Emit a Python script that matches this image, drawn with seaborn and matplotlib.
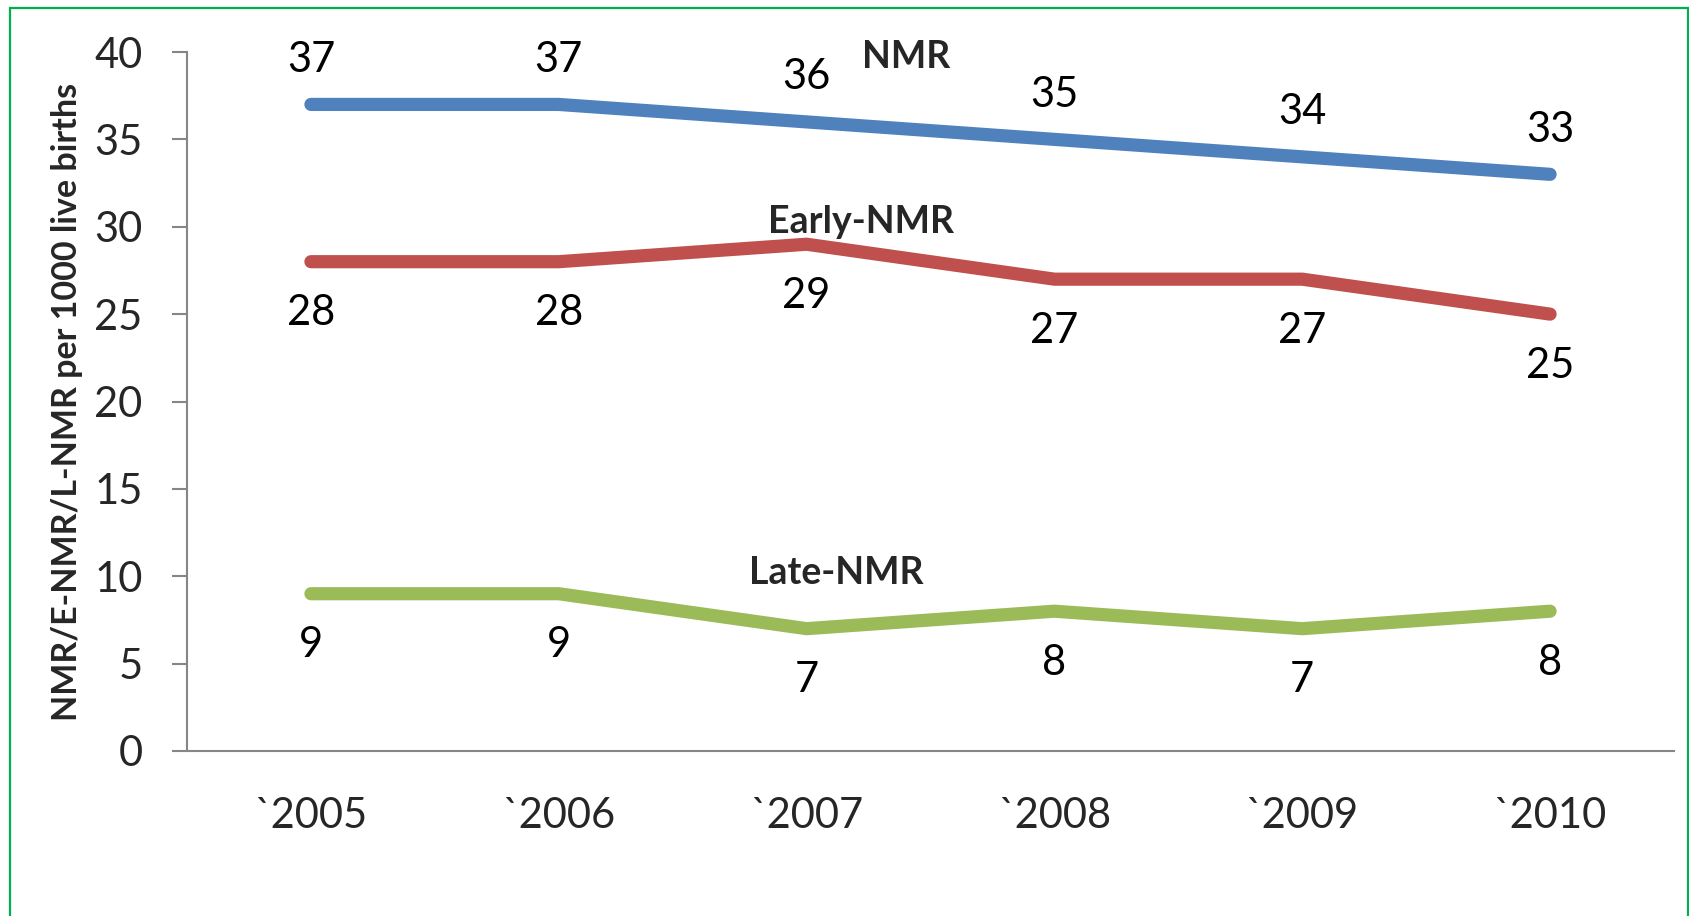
import numpy as np
import pandas as pd
import seaborn as sns
import matplotlib.pyplot as plt
from matplotlib.patches import Rectangle

# === Data ===
years = ["`2005", "`2006", "`2007", "`2008", "`2009", "`2010"]
nmr = [37, 37, 36, 35, 34, 33]
early_nmr = [28, 28, 29, 27, 27, 25]
late_nmr = [9, 9, 7, 8, 7, 8]
series_names = ["NMR", "Early-NMR", "Late-NMR"]
colors = ["#4F81BD", "#C0504D", "#9BBB59"]

df = pd.DataFrame({
    "year": years * 3,
    "pos": list(range(len(years))) * 3,
    "value": nmr + early_nmr + late_nmr,
    "series": [s for s in series_names for _ in years],
})

sns.set_style("white")
plt.rcParams["font.family"] = ["Lato", "DejaVu Sans"]

fig = plt.figure(figsize=(16.9, 9.16), dpi=100)
ax = fig.add_axes([187 / 1690, 1 - 751 / 916, (1674 - 187) / 1690, (751 - 52) / 916])

sns.lineplot(data=df, x="pos", y="value", hue="series", palette=colors,
             linewidth=9.5, solid_capstyle="round", solid_joinstyle="round",
             legend=False, ax=ax)

# data labels: NMR above, the others below
offsets = {"NMR": 32, "Early-NMR": -37, "Late-NMR": -37}
for name, grp in df.groupby("series"):
    for x, v in zip(grp["pos"], grp["value"]):
        ax.annotate(str(v), (x, v), xytext=(0, offsets[name]), textcoords="offset points",
                    ha="center", va="center", fontsize=30, color="black")

# series names
ax.text(2.40, 39.7, "NMR", ha="center", va="center", fontsize=27, fontweight="bold")
ax.text(2.22, 30.3, "Early-NMR", ha="center", va="center", fontsize=27, fontweight="bold")
ax.text(2.12, 10.2, "Late-NMR", ha="center", va="center", fontsize=27, fontweight="bold")

ax.set_xlim(-0.5, len(years) - 0.5)
ax.set_ylim(0, 40)
ax.set_xticks(range(len(years)))
ax.set_xticklabels(years)
ax.set_yticks(np.arange(0, 41, 5))
ax.tick_params(axis="y", length=11, width=1.5, color="#868686", pad=21, labelsize=30, direction="out", left=True)
ax.tick_params(axis="x", length=0, pad=33, labelsize=30)

for side in ["top", "right"]:
    ax.spines[side].set_visible(False)
for side in ["left", "bottom"]:
    ax.spines[side].set_color("#868686")
    ax.spines[side].set_linewidth(1.5)

ax.set_xlabel("")
ax.set_ylabel("NMR/E-NMR/L-NMR per 1000 live births", fontsize=24.5, fontweight="bold")
ax.yaxis.set_label_coords((67 - 187) / 1487, 0.5)
ax.yaxis.label.set_va("center")

# green frame around the chart
fig.patches.append(Rectangle((10 / 1690, -0.05), 1678 / 1690, 1.05 - 8 / 916,
                             transform=fig.transFigure, fill=False,
                             edgecolor="#00B050", linewidth=1.6))

fig.savefig("out.png", dpi=100)
